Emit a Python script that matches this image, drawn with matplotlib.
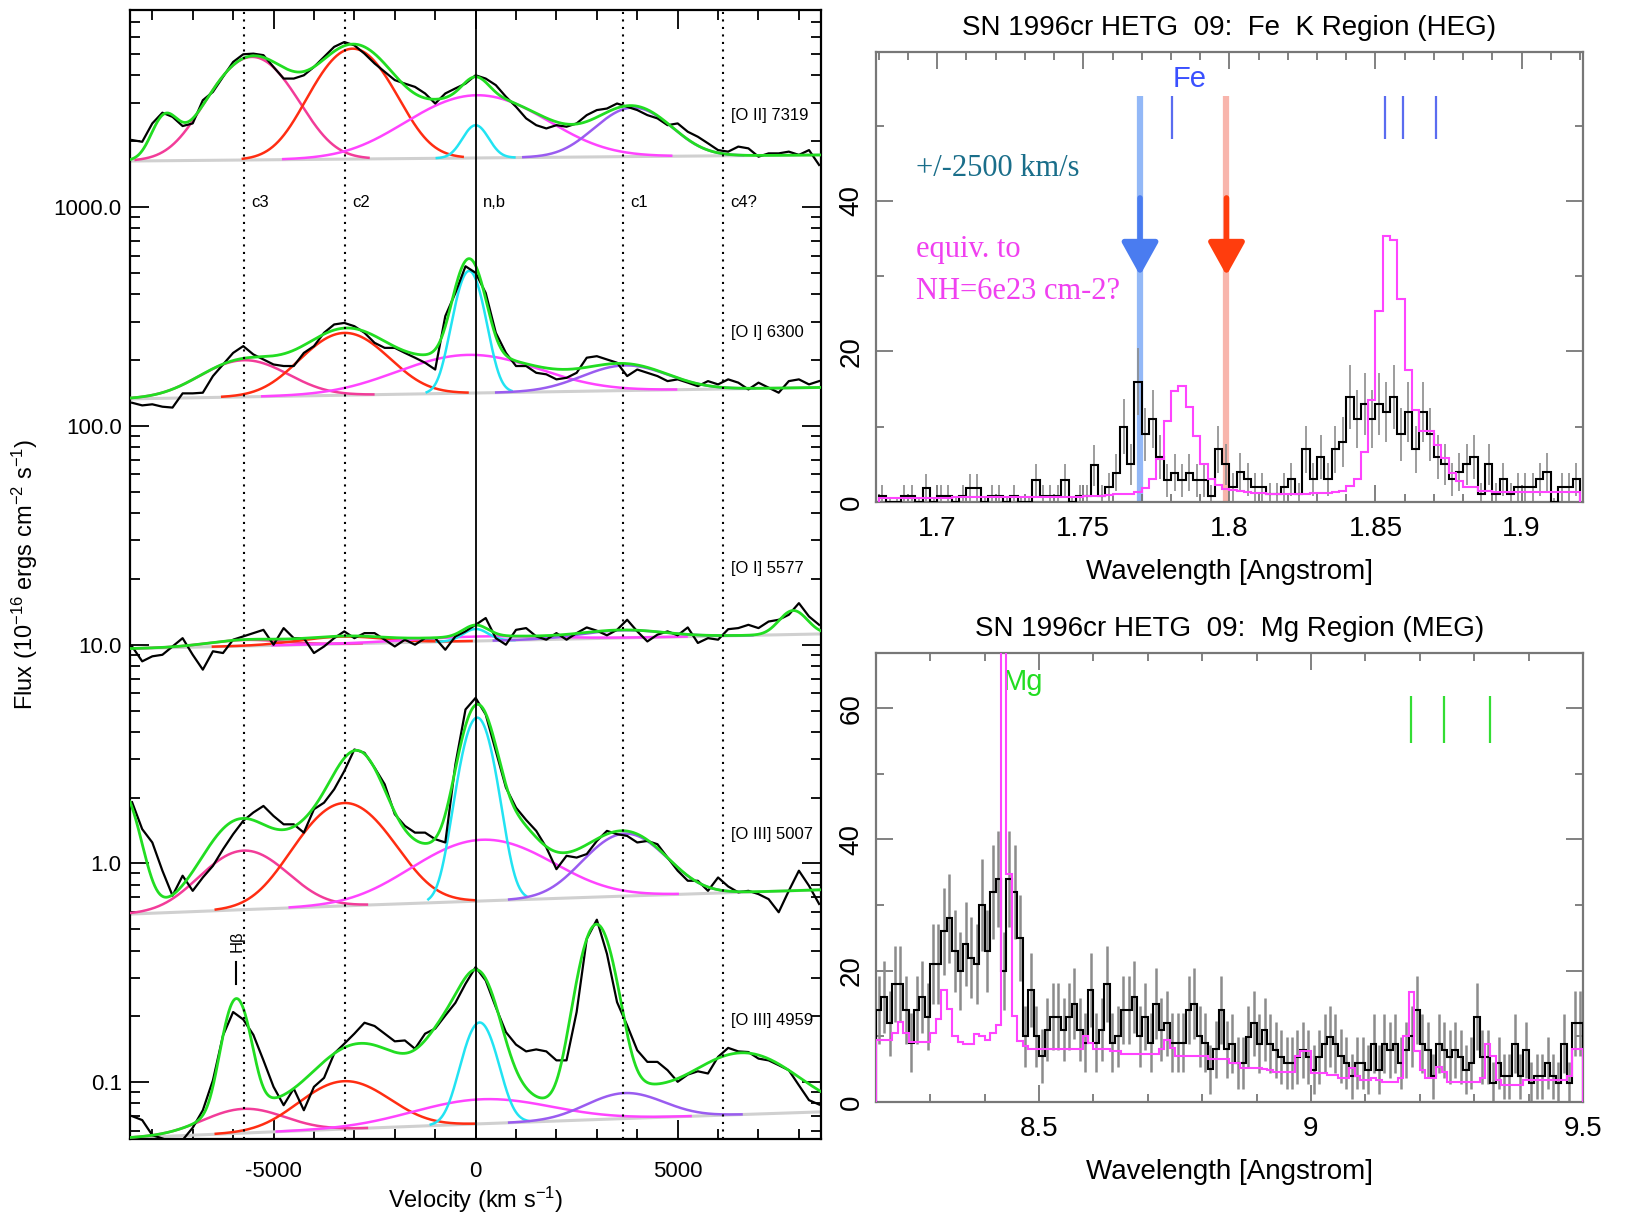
import numpy as np
import matplotlib.pyplot as plt
from matplotlib.ticker import MultipleLocator, FixedLocator, FuncFormatter, LogLocator, NullFormatter

plt.rcParams['axes.unicode_minus'] = False
plt.rcParams['mathtext.default'] = 'regular'
plt.rcParams['font.family'] = ['Liberation Sans', 'DejaVu Sans']
narrow = ['Liberation Sans Narrow', 'Liberation Sans', 'DejaVu Sans']
serif = ['Liberation Serif', 'DejaVu Serif']

# ---------------- optical line profiles (velocity space) ----------------
vel = np.arange(-8500, 8501, 250)

# observed profiles, log10 of flux
oii_7319_log = [3.307, 3.299, 3.383, 3.432, 3.413, 3.371, 3.383, 3.489, 3.527, 3.596,
                3.664, 3.699, 3.702, 3.695, 3.641, 3.588, 3.588, 3.603, 3.641, 3.687,
                3.733, 3.755, 3.740, 3.702, 3.657, 3.619, 3.581, 3.565, 3.550, 3.520,
                3.474, 3.520, 3.543, 3.565, 3.603, 3.588, 3.558, 3.505, 3.459, 3.406,
                3.375, 3.360, 3.375, 3.368, 3.383, 3.421, 3.444, 3.451, 3.474, 3.459,
                3.444, 3.421, 3.406, 3.375, 3.383, 3.345, 3.322, 3.292, 3.261, 3.254,
                3.277, 3.269, 3.231, 3.246, 3.246, 3.254, 3.239, 3.261, 3.193]
oi_6300_log = [2.106, 2.094, 2.099, 2.088, 2.084, 2.149, 2.149, 2.152, 2.228, 2.281,
               2.334, 2.365, 2.327, 2.304, 2.281, 2.274, 2.274, 2.334, 2.365, 2.426,
               2.464, 2.471, 2.456, 2.426, 2.380, 2.357, 2.357, 2.334, 2.312, 2.289,
               2.258, 2.502, 2.608, 2.730, 2.700, 2.608, 2.426, 2.334, 2.274, 2.274,
               2.243, 2.236, 2.213, 2.220, 2.243, 2.312, 2.319, 2.304, 2.289, 2.228,
               2.258, 2.243, 2.228, 2.205, 2.213, 2.198, 2.182, 2.205, 2.190, 2.213,
               2.198, 2.167, 2.198, 2.175, 2.152, 2.205, 2.213, 2.190, 2.205]
oi_5577_log = [0.992, 0.924, 0.947, 0.954, 0.992, 1.030, 0.954, 0.886, 0.970, 0.962,
               1.023, 1.038, 1.053, 1.068, 1.000, 1.076, 1.030, 1.030, 0.962, 0.992,
               1.030, 1.061, 1.030, 1.053, 1.053, 1.023, 0.992, 1.023, 1.000, 1.030,
               1.030, 0.977, 1.038, 1.061, 1.091, 1.122, 1.030, 1.000, 1.068, 1.076,
               1.038, 1.023, 1.053, 1.023, 1.053, 1.079, 1.064, 1.043, 1.068, 1.114,
               1.061, 1.015, 1.046, 1.061, 1.043, 1.079, 1.008, 1.030, 1.023, 1.071,
               1.076, 1.091, 1.076, 1.106, 1.114, 1.137, 1.190, 1.129, 1.091]
oiii_5007_log = [0.280, 0.157, 0.096, -0.033, -0.147, -0.056, -0.125, -0.064, -0.011, 0.065,
                 0.134, 0.195, 0.233, 0.263, 0.217, 0.179, 0.179, 0.141, 0.248, 0.278,
                 0.339, 0.422, 0.521, 0.506, 0.438, 0.362, 0.225, 0.172, 0.141, 0.141,
                 0.111, 0.096, 0.453, 0.704, 0.757, 0.681, 0.514, 0.347, 0.255, 0.199,
                 0.149, 0.073, -0.026, 0.035, 0.027, 0.043, 0.103, 0.149, 0.134, 0.126,
                 0.096, 0.103, 0.088, 0.027, -0.033, -0.079, -0.079, -0.125, -0.064, -0.105,
                 -0.132, -0.125, -0.140, -0.163, -0.223, -0.125, -0.033, -0.102, -0.185]
oiii_4959_log = [-1.155, -1.173, -1.242, -1.257, -1.275, -1.264, -1.208, -1.128, -0.991, -0.786,
                 -0.679, -0.713, -0.783, -0.900, -1.021, -1.105, -1.029, -1.128, -1.021, -0.980,
                 -0.869, -0.824, -0.778, -0.728, -0.743, -0.778, -0.813, -0.809, -0.847, -0.778,
                 -0.755, -0.695, -0.637, -0.550, -0.474, -0.535, -0.657, -0.771, -0.828, -0.859,
                 -0.850, -0.859, -0.900, -0.900, -0.679, -0.345, -0.257, -0.413, -0.634, -0.740,
                 -0.854, -0.907, -0.907, -0.945, -0.998, -0.965, -0.950, -0.960, -0.884, -0.843,
                 -0.859, -0.862, -0.892, -0.900, -0.922, -0.945, -1.014, -1.082, -1.102]

# linear continuum (flux at left / right edge) and gaussian components
# component order: c3, c2, broad, narrow, c1 ; "extra" = blends only in the total fit
oii_7319_cont = [1626, 1733]
oii_7319_cen = [-5530, -3040, 40, 0, 3900]
oii_7319_sig = [900, 850, 1500, 300, 850]
oii_7319_amp = [3220, 3645, 1570, 690, 1150]
oii_7319_xcen, oii_7319_xsig, oii_7319_xamp = [-7690], [300], [870]

oi_6300_cont = [133, 150]
oi_6300_cen = [-5725, -3236, -160, -160, 3707]
oi_6300_sig = [1000, 950, 1600, 330, 1000]
oi_6300_amp = [64, 128, 70, 370, 44]
oi_6300_xcen, oi_6300_xsig, oi_6300_xamp = [], [], []

oi_5577_cont = [9.6, 11.2]
oi_5577_cen = [-5700, -3300, 100, 0, 3650]
oi_5577_sig = [900, 1000, 1600, 300, 1000]
oi_5577_amp = [0.65, 0.8, 0.5, 1.4, 0.9]
oi_5577_xcen, oi_5577_xsig, oi_5577_xamp = [7860], [330], [3.2]

oiii_5007_cont = [0.587, 0.758]
oiii_5007_cen = [-5725, -3236, 200, 40, 3707]
oiii_5007_sig = [950, 1000, 1500, 380, 900]
oiii_5007_amp = [0.53, 1.25, 0.61, 3.97, 0.66]
oiii_5007_xcen = [-8800, -5900, -2900, 900]
oiii_5007_xsig = [400, 650, 500, 500]
oiii_5007_xamp = [1.6, 0.42, 1.38, 0.36]

oiii_4959_cont = [0.0557, 0.0732]
oiii_4959_cen = [-5725, -3236, 200, 100, 3707]
oiii_4959_sig = [950, 1000, 1600, 380, 900]
oiii_4959_amp = [0.017, 0.040, 0.019, 0.123, 0.021]
oiii_4959_xcen = [-5920, -2600, -300, 2990, 6600]
oiii_4959_xsig = [300, 1000, 700, 400, 1200]
oiii_4959_xamp = [0.165, 0.05, 0.135, 0.44, 0.065]

line_names = ['[O II] 7319', '[O I] 6300', '[O I] 5577', '[O III] 5007', '[O III] 4959']
line_label_y = [2636, 267, 22.4, 1.36, 0.192]
comp_names = ['c3', 'c2', 'n,b', 'c1', 'c4?']
comp_vel = [-5725, -3236, 0, 3650, 6130]

# ---------------- X-ray spectra ----------------
fe_edges = np.linspace(1.68, 1.92, 97)
fe_counts = [0.8, 0, 0, 0.8, 0.8, 0, 1.9, 0, 0.8, 0.8, 0, 0.8, 1.9, 1.9, 0, 0.8, 0.8, 0, 0.8, 0,
             0, 2.9, 0.8, 0.8, 0.8, 2.9, 0, 0.8, 0.8, 4.9, 0.8, 2.0, 3.9, 10, 5, 16, 9, 11, 6, 2.9,
             3.9, 2.9, 3.9, 2.9, 2.9, 0.8, 7, 5,
             2, 4, 3, 2, 2, 1, 1, 2, 3, 1, 7, 3, 6, 3, 7, 8, 14, 11, 13, 11,
             13, 12, 14, 9, 12, 7, 12, 9, 6, 5, 3, 4, 5, 6, 1, 5, 1, 3, 1, 2,
             2, 2, 3, 4, 0, 2, 2, 3]
fe_model = [0.5] * 10 + [0.6] * 10 + [0.7] * 8 + [0.8] * 3 + \
           [0.9, 1.0, 1.0, 1.1, 1.3, 1.8, 3.0, 5.7, 10.7, 14.8, 15.4, 12.6, 8.8, 5.1, 3.1, 2.3, 1.7] + \
           [1.6, 1.4, 1.3, 1.2, 1.2] + [1.1] * 6 + [1.2] * 3 + [1.3, 1.4] + \
           [2.1, 3.0, 6.6, 13.5, 25.4, 35.4, 34.8, 27.0, 17.5, 12.2, 9.4, 9.4, 7.6, 5.9, 3.9, 2.8,
            2.0, 2.0, 1.5, 1.5] + [1.3] * 12
fe_lines = [1.7803, 1.8533, 1.8593, 1.8706]
fe_blue, fe_red = 1.7694, 1.799

mg_edges = np.linspace(8.2, 9.5, 131)
mg_counts = [14, 16, 12, 18, 18, 14, 9, 14, 16, 13, 21, 21, 26, 28, 23, 20, 24, 22, 21, 30,
             23, 32, 34, 20, 34, 32, 25, 10, 17, 10, 7, 11, 13, 13, 11, 13, 15, 11, 9, 17,
             9, 11, 18, 9, 10, 14, 14, 16, 10, 13, 9, 15, 11, 12, 9, 9, 9, 14, 15, 10,
             9, 5, 8, 14, 8,
             8.9, 5.9, 5.9, 9.9, 12.0, 8.9, 11.0, 8.9, 7.9, 6.9, 5.9, 5.9, 6.9, 7.9, 6.9,
             4.9, 6.9, 8.9, 9.9, 8.9, 7.0, 5.9, 3.9, 5.9, 5.9, 4.9, 8.9, 4.9, 8.9, 7.9,
             8.9, 5.9, 7.9, 10.0, 14.0, 8.9, 7.9, 3.9, 8.9, 7.9, 6.9, 7.9, 6.9, 4.9, 5.9,
             13.0, 6.9, 6.9, 2.9, 5.9, 3.9, 3.9, 8.9, 3.9, 7.9, 2.9, 3.9, 3.9, 5.9, 3.9,
             2.9, 8.9, 2.9, 12.0, 12.0]
mg_model = [9.5, 9.5, 9.5, 10.5, 12.2, 10.5, 9.1, 9.1, 9.1, 9.1,
            10.5, 12.6, 17.1, 14.1, 10.0, 9.1, 8.8, 8.8, 10.3, 10.0,
            9.5, 10.5, 11.8, 120.0, 34.8, 13.1, 9.3, 8.5] + [8.0] * 10 + [10.0, 9.0] + \
           [8.0, 8.0, 8.0, 7.8, 7.8] + [7.3] * 7 + [8.1, 9.5, 8.2] + [7.0] * 6 + [6.5] * 4 + \
           [5.9, 5.9, 5.2, 5.2, 5.2, 5.2, 5.0, 4.8, 4.6, 4.6, 4.6, 4.6, 7.0, 7.7, 7.7,
            4.4, 4.4, 4.4, 4.1, 4.1, 3.6, 3.6, 5.2, 4.0, 3.4, 3.4, 3.6, 3.4, 3.1, 3.1,
            3.1, 3.6, 10.0, 16.8, 7.7, 4.8, 3.6, 3.6, 5.4, 4.5] + [3.1] * 6 + \
           [3.6, 8.8, 7.0, 3.4, 2.6, 2.6, 2.6, 2.6, 3.4] + [3.3] * 5 + [3.4, 3.4, 3.9, 8.0, 8.0]
mg_lines = [9.183, 9.245, 9.329]


def gauss(x, c, s, a):
    return a * np.exp(-0.5 * ((x - c) / s) ** 2)


vfine = np.linspace(-8550, 8550, 1711)
comp_colors = ['#f23c99', '#ff2d12', '#ff44ff', '#22e3f2', '#9a5cf0']


def draw_profile(ax, obs_log, cont, cen, sig, amp, xcen, xsig, xamp):
    base = cont[0] + (cont[1] - cont[0]) * (vfine + 8550) / 17100.0
    total = base.copy()
    ax.plot(vfine, base, color='#d0d0d0', lw=2.2, zorder=2)
    for c, s, a, col in zip(cen, sig, amp, comp_colors):
        g = gauss(vfine, c, s, a)
        total += g
        m = np.abs(vfine - c) <= 3.2 * s
        ax.plot(vfine[m], base[m] + g[m], color=col, lw=1.8, zorder=3)
    for c, s, a in zip(xcen, xsig, xamp):
        total += gauss(vfine, c, s, a)
    ax.plot(vel, 10 ** np.asarray(obs_log), color='k', lw=1.6, zorder=4)
    ax.plot(vfine, total, color='#22dd22', lw=2.0, zorder=5)


fig = plt.figure(figsize=(16.26, 12.19), dpi=100)

# ---- left: velocity profiles ----
ax = fig.add_axes([0.0800, 0.0656, 0.4250, 0.9260])
draw_profile(ax, oii_7319_log, oii_7319_cont, oii_7319_cen, oii_7319_sig, oii_7319_amp,
             oii_7319_xcen, oii_7319_xsig, oii_7319_xamp)
draw_profile(ax, oi_6300_log, oi_6300_cont, oi_6300_cen, oi_6300_sig, oi_6300_amp,
             oi_6300_xcen, oi_6300_xsig, oi_6300_xamp)
draw_profile(ax, oi_5577_log, oi_5577_cont, oi_5577_cen, oi_5577_sig, oi_5577_amp,
             oi_5577_xcen, oi_5577_xsig, oi_5577_xamp)
draw_profile(ax, oiii_5007_log, oiii_5007_cont, oiii_5007_cen, oiii_5007_sig, oiii_5007_amp,
             oiii_5007_xcen, oiii_5007_xsig, oiii_5007_xamp)
draw_profile(ax, oiii_4959_log, oiii_4959_cont, oiii_4959_cen, oiii_4959_sig, oiii_4959_amp,
             oiii_4959_xcen, oiii_4959_xsig, oiii_4959_xamp)

ax.set_yscale('log')
ax.set_xlim(-8550, 8550)
ax.set_ylim(0.055, 7950)

for name, v in zip(comp_names, comp_vel):
    if name == 'n,b':
        ax.axvline(v, color='k', lw=1.3, zorder=6)
    else:
        ax.axvline(v, color='k', lw=1.5, ls=(0, (1, 2.6)), zorder=6)
    ax.text(v + 180, 1050, name, fontsize=12, family=narrow, va='center', ha='left')

for name, y in zip(line_names, line_label_y):
    ax.text(6330, y, name, fontsize=12, family=narrow, va='center', ha='left')

ax.plot([-5920, -5920], [0.282, 0.354], color='k', lw=1.5)
ax.text(-5900, 0.44, 'Hβ', rotation=90, fontsize=12, family=narrow, ha='center', va='center')

ax.xaxis.set_major_locator(MultipleLocator(5000))
ax.xaxis.set_minor_locator(MultipleLocator(1000))
ax.yaxis.set_major_locator(FixedLocator([0.1, 1, 10, 100, 1000]))
ax.yaxis.set_minor_locator(LogLocator(base=10, subs=np.arange(2, 10)))
ax.yaxis.set_minor_formatter(NullFormatter())
ax.yaxis.set_major_formatter(FuncFormatter(lambda y, p: '%.1f' % y))
ax.tick_params(which='both', direction='in', top=True, right=True, width=1.3, labelsize=16)
ax.tick_params(which='major', length=14)
ax.tick_params(which='minor', length=7)
ax.tick_params(axis='x', pad=16)
ax.tick_params(axis='y', pad=6)
for s in ax.spines.values():
    s.set_linewidth(1.6)
ax.set_xlabel('Velocity (km s$^{-1}$)', fontsize=17, family=narrow, labelpad=2)
ax.set_ylabel('Flux (10$^{-16}$ ergs cm$^{-2}$ s$^{-1}$)', fontsize=17, labelpad=10)


def style_xray(ax):
    for s in ax.spines.values():
        s.set_color('#777777')
        s.set_linewidth(1.6)
    ax.tick_params(which='both', direction='in', top=True, right=True, color='#777777',
                   width=1.3, labelsize=20)
    ax.tick_params(which='major', length=12)
    ax.tick_params(which='minor', length=6)
    ax.tick_params(axis='x', pad=10)
    ax.tick_params(axis='y', labelrotation=90, pad=8)
    for lab in ax.get_yticklabels():
        lab.set_va('center')
    ax.xaxis.set_major_formatter(FuncFormatter(lambda x, p: f'{x:g}'))
    ax.yaxis.set_major_locator(MultipleLocator(20))
    ax.yaxis.set_minor_locator(MultipleLocator(10))
    ax.set_xlabel('Wavelength [Angstrom]', fontsize=20, labelpad=12)


def counting_err(counts, floor):
    # counting errors on the binned spectra
    c = np.asarray(counts, dtype=float)
    return np.sqrt(c) + floor


# ---- right top: Fe K region ----
ax1 = fig.add_axes([0.5387, 0.5882, 0.4348, 0.3692])
fe_mid = 0.5 * (fe_edges[1:] + fe_edges[:-1])
ax1.plot([fe_blue, fe_blue], [0, 54.0], color='#93b8f7', lw=4.5, zorder=1, solid_capstyle='butt')
ax1.plot([fe_red, fe_red], [0, 54.0], color='#f8b5ac', lw=4.5, zorder=1, solid_capstyle='butt')
fe_err = counting_err(fe_counts, 0.5)
ax1.vlines(fe_mid, np.maximum(np.array(fe_counts) - fe_err, 0), np.array(fe_counts) + fe_err,
           color='#8c8c8c', lw=1.2, zorder=2)
ax1.stairs(fe_counts, fe_edges, color='k', lw=1.5, zorder=3)
ax1.stairs(fe_model, fe_edges, color='#ff44ff', lw=1.5, zorder=4)
for x, col in [(fe_blue, '#4a7cf0'), (fe_red, '#ff3d0d')]:
    ax1.annotate('', xy=(x, 30.1), xytext=(x, 40.4),
                 arrowprops=dict(arrowstyle='-|>,head_length=0.45,head_width=0.25',
                                 color=col, lw=4, mutation_scale=45, shrinkA=0, shrinkB=0),
                 zorder=5)
ax1.vlines(fe_lines, 48.2, 54.0, color='#5a6cf0', lw=1.6)
ax1.text(1.7865, 56.2, 'Fe', color='#3a50ff', fontsize=21, ha='center', va='center')
ax1.text(1.6928, 44.3, '+/-2500 km/s', color='#1a6e8a', fontsize=22, family=serif, va='center')
ax1.text(1.6928, 33.6, 'equiv. to', color='#f040f0', fontsize=22, family=serif, va='center')
ax1.text(1.6928, 28.0, 'NH=6e23 cm-2?', color='#f040f0', fontsize=22, family=serif, va='center')
ax1.set_xlim(1.679, 1.921)
ax1.set_ylim(0, 59.8)
ax1.xaxis.set_major_locator(MultipleLocator(0.05))
ax1.xaxis.set_minor_locator(MultipleLocator(0.01))
style_xray(ax1)
ax1.set_title('SN 1996cr HETG  09:  Fe  K Region (HEG)', fontsize=20, pad=12)

# ---- right bottom: Mg region ----
ax2 = fig.add_axes([0.5387, 0.0960, 0.4348, 0.3683])
mg_mid = 0.5 * (mg_edges[1:] + mg_edges[:-1])
mg_err = counting_err(mg_counts, 1.5)
ax2.vlines(mg_mid, np.array(mg_counts) - mg_err, np.array(mg_counts) + mg_err,
           color='#8c8c8c', lw=1.8, zorder=2)
ax2.stairs(mg_counts, mg_edges, color='k', lw=1.5, zorder=3)
ax2.stairs(mg_model, mg_edges, color='#ff44ff', lw=1.5, zorder=4)
ax2.vlines(mg_lines, 54.7, 61.9, color='#33dd33', lw=1.6)
ax2.text(8.471, 64.0, 'Mg', color='#22dd22', fontsize=21, ha='center', va='center')
ax2.set_xlim(8.2, 9.5)
ax2.set_ylim(0, 68.4)
ax2.xaxis.set_major_locator(MultipleLocator(0.5))
ax2.xaxis.set_minor_locator(MultipleLocator(0.1))
style_xray(ax2)
ax2.set_title('SN 1996cr HETG  09:  Mg Region (MEG)', fontsize=20, pad=12)

fig.savefig('out.png', dpi=100)
